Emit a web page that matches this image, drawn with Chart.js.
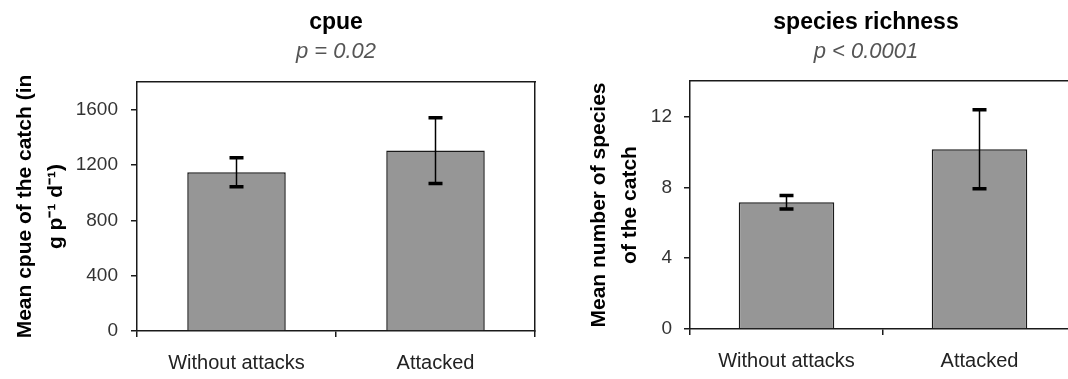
<!DOCTYPE html>
<html>
<head>
<meta charset="utf-8">
<title>cpue and species richness</title>
<script src="https://cdn.jsdelivr.net/npm/chart.js@4.4.0/dist/chart.umd.min.js"></script>
<style>
  html, body { margin: 0; padding: 0; background: #fff; }
  body { width: 1068px; height: 379px; overflow: hidden; position: relative; }
  canvas { position: absolute; top: 0; }
  #cpueChart { left: 0; }
  #richChart { left: 560px; }
</style>
</head>
<body>
<canvas id="cpueChart" width="672" height="379"></canvas>
<canvas id="richChart" width="612" height="379"></canvas>
<script>
// data
const categories = ['Without attacks', 'Attacked'];

const cpueMeans = [1147, 1304];
const cpueErrors = [105, 238];
const cpueTicks = [0, 400, 800, 1200, 1600];

const richMeans = [7.15, 10.15];
const richErrors = [0.38, 2.23];
const richTicks = [0, 4, 8, 12];

Chart.defaults.font.family = 'Arial, "Liberation Sans", sans-serif';
Chart.defaults.color = '#222';

const lineColor = '#1a1a1a';
const axisBorder = { display: true, color: lineColor, width: 1.5 };

// mean +/- error whiskers, placed with the chart's own y scale
const errorBars = {
  id: 'errorBars',
  afterDatasetsDraw(chart, args, opts) {
    const ctx = chart.ctx;
    const yScale = chart.scales.y;
    const values = chart.data.datasets[0].data;
    ctx.save();
    ctx.strokeStyle = '#000';
    chart.getDatasetMeta(0).data.forEach((bar, i) => {
      const top = yScale.getPixelForValue(values[i] + opts.errors[i]);
      const bottom = yScale.getPixelForValue(values[i] - opts.errors[i]);
      ctx.lineWidth = 1.5;
      ctx.beginPath();
      ctx.moveTo(bar.x, top);
      ctx.lineTo(bar.x, bottom);
      ctx.stroke();
      ctx.lineWidth = 3.5;
      ctx.beginPath();
      ctx.moveTo(bar.x - 7, top);
      ctx.lineTo(bar.x + 7, top);
      ctx.moveTo(bar.x - 7, bottom);
      ctx.lineTo(bar.x + 7, bottom);
      ctx.stroke();
    });
    ctx.restore();
  }
};

function makeChart(id, p) {
  return new Chart(document.getElementById(id), {
    type: 'bar',
    data: {
      labels: categories,
      datasets: [{
        data: p.means,
        xAxisID: 'x',
        yAxisID: 'y',
        backgroundColor: '#969696',
        borderColor: lineColor,
        borderWidth: 1.5,
        barPercentage: 0.495,
        categoryPercentage: 1
      }]
    },
    options: {
      responsive: false,
      animation: false,
      events: [],
      layout: { padding: 0 },
      plugins: {
        legend: { display: false },
        tooltip: { enabled: false },
        title: {
          display: true,
          text: p.title,
          color: '#000',
          font: { size: 23, weight: 'bold', lineHeight: 1.2 },
          padding: { top: 9, bottom: 1.6 }
        },
        subtitle: {
          display: true,
          text: p.pText,
          color: '#555',
          font: { size: 22, style: 'italic', lineHeight: 1.2 },
          padding: { top: 0, bottom: p.subPad }
        },
        errorBars: { errors: p.errors }
      },
      scales: {
        x: {
          position: 'bottom',
          grid: { display: true, drawOnChartArea: false, offset: true, tickLength: 6, color: lineColor, lineWidth: 1.5 },
          border: axisBorder,
          ticks: { font: { size: 20 }, color: '#222', padding: 14 },
          afterFit: s => { s.height = p.xHeight; }
        },
        xTop: {
          type: 'category',
          position: 'top',
          grid: { display: false },
          ticks: { display: false },
          border: axisBorder,
          afterFit: s => { s.height = 0; }
        },
        y: {
          position: 'left',
          min: 0,
          max: p.max,
          afterBuildTicks: s => { s.ticks = p.ticks.map(v => ({ value: v })); },
          grid: { drawOnChartArea: false, tickLength: 6, color: lineColor, lineWidth: 1.5 },
          border: axisBorder,
          ticks: { font: { size: 19 }, color: '#333', padding: p.yPad, callback: v => String(v) },
          title: {
            display: true,
            text: p.yTitle,
            color: '#000',
            font: { size: 21, weight: 'bold', lineHeight: 1.48 },
            padding: { top: p.yTitlePad, bottom: 0 }
          },
          afterFit: s => { s.width = p.yWidth; }
        },
        yRight: {
          type: 'linear',
          position: 'right',
          grid: { display: false },
          ticks: { display: false },
          border: axisBorder,
          afterFit: s => { s.width = p.rightWidth; }
        }
      }
    },
    plugins: [errorBars]
  });
}

makeChart('cpueChart', {
  title: 'cpue',
  pText: 'p = 0.02',
  means: cpueMeans,
  errors: cpueErrors,
  ticks: cpueTicks,
  max: 1800,
  yTitle: ['Mean cpue of the catch (in', 'g p\u207B\u00B9 d\u207B\u00B9)'],
  yTitlePad: 9.5,
  yPad: 13,
  yWidth: 137,
  rightWidth: 137,
  subPad: 17.4,
  xHeight: 48
});

makeChart('richChart', {
  title: 'species richness',
  pText: 'p < 0.0001',
  means: richMeans,
  errors: richErrors,
  ticks: richTicks,
  max: 14,
  yTitle: ['Mean number of species', 'of the catch'],
  yTitlePad: 24,
  yPad: 12,
  yWidth: 130,
  rightWidth: 96,
  subPad: 16.4,
  xHeight: 50
});
</script>
</body>
</html>
